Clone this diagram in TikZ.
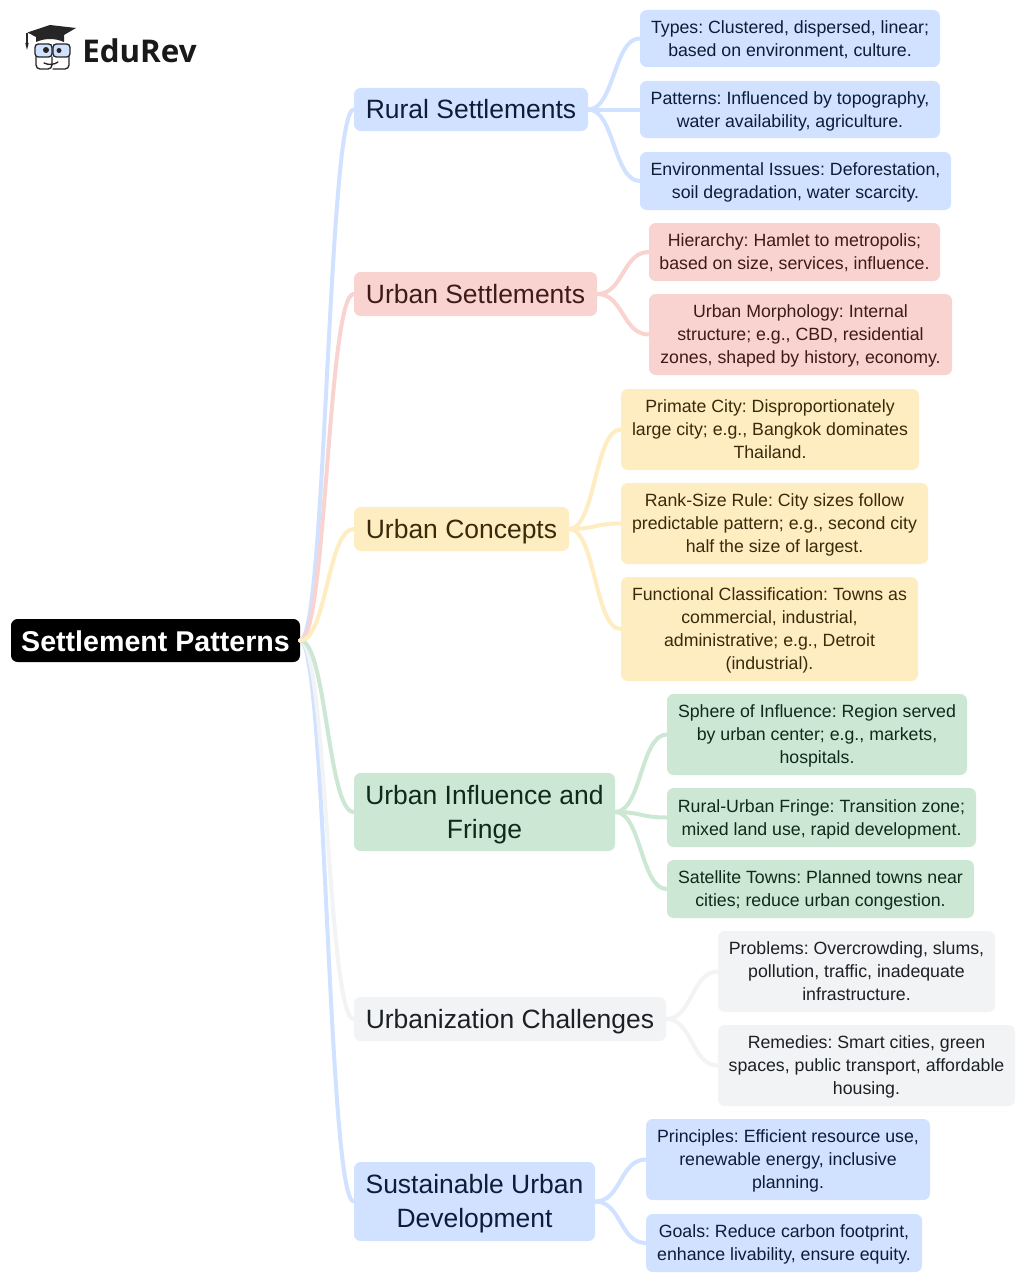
\documentclass[tikz,border=0pt]{standalone}
\usepackage{fontspec}
\setmainfont{Liberation Sans}
\newfontfamily\logofont{Open Sans}
\definecolor{cblue}{HTML}{D0E2FF}
\definecolor{cred}{HTML}{F9D3CF}
\definecolor{cyellow}{HTML}{FFEDC2}
\definecolor{cgreen}{HTML}{CCE8D4}
\definecolor{cgrey}{HTML}{F2F3F5}
\definecolor{tblue}{HTML}{0E1C36}
\definecolor{tred}{HTML}{3F1A1A}
\definecolor{tyellow}{HTML}{3A2A0A}
\definecolor{tgreen}{HTML}{0F2A1A}
\definecolor{tgrey}{HTML}{1C2024}
\tikzset{
  wh/.style 2 args={minimum width=#1*0.75pt,minimum height=#2*0.75pt},
  boxbase/.style={rounded corners=5pt,inner sep=0pt,align=center,anchor=center,text depth=0pt},
  rootbox/.style={boxbase,fill=black,text=white,font=\fontsize{21.45pt}{26pt}\selectfont\bfseries\frenchspacing,text height=16.8pt},
  mainbox/.style={boxbase,font=\fontsize{19.85pt}{25.6pt}\selectfont\frenchspacing,text height=13.9pt},
  maintwo/.style={text height=39.5pt},
  leafbox/.style={boxbase,font=\fontsize{13.3pt}{17.25pt}\selectfont\frenchspacing,text height=26.6pt},
  leafthree/.style={text height=43.9pt},
  leaffour/.style={text height=61.1pt},
  sblue/.style={fill=cblue,text=tblue},
  sred/.style={fill=cred,text=tred},
  syellow/.style={fill=cyellow,text=tyellow},
  sgreen/.style={fill=cgreen,text=tgreen},
  sgrey/.style={fill=cgrey,text=tgrey},
  link/.style={line width=3pt,line cap=round,out=0,in=180,out distance=19.5pt,in distance=19.5pt},
  logoline/.style={draw=black!85,line width=1pt,line cap=round},
}
\begin{document}
\begin{tikzpicture}[x=0.75pt,y=-0.75pt]
\useasboundingbox[fill=white] (0,0) rectangle (1024,1281);
% logo
\draw[logoline,fill=cblue,rounded corners=2.5pt] (35,44) rectangle (52,57);
\draw[logoline,fill=cblue,rounded corners=2.5pt] (53,44) rectangle (70,57);
\fill[black!85] (27.5,32.5) -- (50,25) -- (76,28) -- (64,35) -- (64,42) .. controls (55,38) and (45,38) .. (36,42) -- (36,37) -- cycle;
\draw[black!85,line width=0.8pt] (27,33) -- (27,45);
\fill[black!85] (25.3,43) -- (28.7,43) -- (27,50) -- cycle;
\draw[logoline,rounded corners=3pt] (36,57) -- (36,69) -- (52,69) -- (52,57);
\draw[logoline,rounded corners=3pt] (69,57) -- (69,69) -- (53,69);
\draw[logoline] (44,63) .. controls (48,65) and (54,65) .. (58,62);
\fill[black!85] (46,50) circle (3) (59,50.5) circle (2.5);
\node[anchor=west,inner sep=0pt,font=\logofont\fontsize{23.5pt}{28pt}\selectfont\bfseries,text=black!90] (logo) at (82,51) {EduRev};
% root and branches
\node[rootbox,wh={289}{43}] (root) at (155.5,640.5) {Settlement Patterns};
\node[mainbox,sblue,wh={234}{43}] (rural) at (471,109.5) {Rural Settlements};
\node[mainbox,sred,wh={243}{44}] (urban) at (475.5,294) {Urban Settlements};
\node[mainbox,syellow,wh={215}{44}] (concepts) at (461.5,529) {Urban Concepts};
\node[mainbox,maintwo,sgreen,wh={261}{78}] (influence) at (484.5,812) {Urban Influence and\\Fringe};
\node[mainbox,sgrey,wh={312}{44}] (challenges) at (510,1019) {Urbanization Challenges};
\node[mainbox,maintwo,sblue,wh={241}{79}] (sustain) at (474.5,1201.5) {Sustainable Urban\\Development};
% leaves
\node[leafbox,sblue,wh={300}{57}] (types) at (790,38.5) {Types: Clustered, dispersed, linear;\\based on environment, culture.};
\node[leafbox,sblue,wh={300}{57}] (patterns) at (790,109.5) {Patterns: Influenced by topography,\\water availability, agriculture.};
\node[leafbox,sblue,wh={311}{58}] (env) at (795.5,181) {Environmental Issues: Deforestation,\\soil degradation, water scarcity.};
\node[leafbox,sred,wh={291}{58}] (hier) at (794.5,252) {Hierarchy: Hamlet to metropolis;\\based on size, services, influence.};
\node[leafbox,leafthree,sred,wh={303}{81}] (morph) at (800.5,334.5) {Urban Morphology: Internal\\structure; e.g., CBD, residential\\zones, shaped by history, economy.};
\node[leafbox,leafthree,syellow,wh={298}{81}] (primate) at (770,429.5) {Primate City: Disproportionately\\large city; e.g., Bangkok dominates\\Thailand.};
\node[leafbox,leafthree,syellow,wh={307}{81}] (rank) at (774.5,523.5) {Rank-Size Rule: City sizes follow\\predictable pattern; e.g., second city\\half the size of largest.};
\node[leafbox,leaffour,syellow,wh={297}{104}] (func) at (769.5,629) {Functional Classification: Towns as\\commercial, industrial,\\administrative; e.g., Detroit\\(industrial).};
\node[leafbox,leafthree,sgreen,wh={300}{81}] (sphere) at (817,734.5) {Sphere of Influence: Region served\\by urban center; e.g., markets,\\hospitals.};
\node[leafbox,sgreen,wh={309}{59}] (fringe) at (821.5,817.5) {Rural-Urban Fringe: Transition zone;\\mixed land use, rapid development.};
\node[leafbox,sgreen,wh={307}{58}] (satellite) at (820.5,889) {Satellite Towns: Planned towns near\\cities; reduce urban congestion.};
\node[leafbox,leafthree,sgrey,wh={277}{81}] (problems) at (856.5,971.5) {Problems: Overcrowding, slums,\\pollution, traffic, inadequate\\infrastructure.};
\node[leafbox,leafthree,sgrey,wh={297}{81}] (remedies) at (866.5,1065.5) {Remedies: Smart cities, green\\spaces, public transport, affordable\\housing.};
\node[leafbox,leafthree,sblue,wh={284}{81}] (principles) at (788,1159.5) {Principles: Efficient resource use,\\renewable energy, inclusive\\planning.};
\node[leafbox,sblue,wh={276}{58}] (goals) at (784,1243) {Goals: Reduce carbon footprint,\\enhance livability, ensure equity.};
% connectors
\draw[link,cblue] (root.east) to (sustain.west);
\draw[link,cgrey] (root.east) to (challenges.west);
\draw[link,cgreen] (root.east) to (influence.west);
\draw[link,cblue] (root.east) to (rural.west);
\draw[link,cred] (root.east) to (urban.west);
\draw[link,cyellow] (root.east) to (concepts.west);
\draw[link,cblue] (rural.east) to (types.west);
\draw[link,cblue] (rural.east) to (patterns.west);
\draw[link,cblue] (rural.east) to (env.west);
\draw[link,cred] (urban.east) to (hier.west);
\draw[link,cred] (urban.east) to (morph.west);
\draw[link,cyellow] (concepts.east) to (primate.west);
\draw[link,cyellow] (concepts.east) to (rank.west);
\draw[link,cyellow] (concepts.east) to (func.west);
\draw[link,cgreen] (influence.east) to (sphere.west);
\draw[link,cgreen] (influence.east) to (fringe.west);
\draw[link,cgreen] (influence.east) to (satellite.west);
\draw[link,cgrey] (challenges.east) to (problems.west);
\draw[link,cgrey] (challenges.east) to (remedies.west);
\draw[link,cblue] (sustain.east) to (principles.west);
\draw[link,cblue] (sustain.east) to (goals.west);
\end{tikzpicture}
\end{document}
